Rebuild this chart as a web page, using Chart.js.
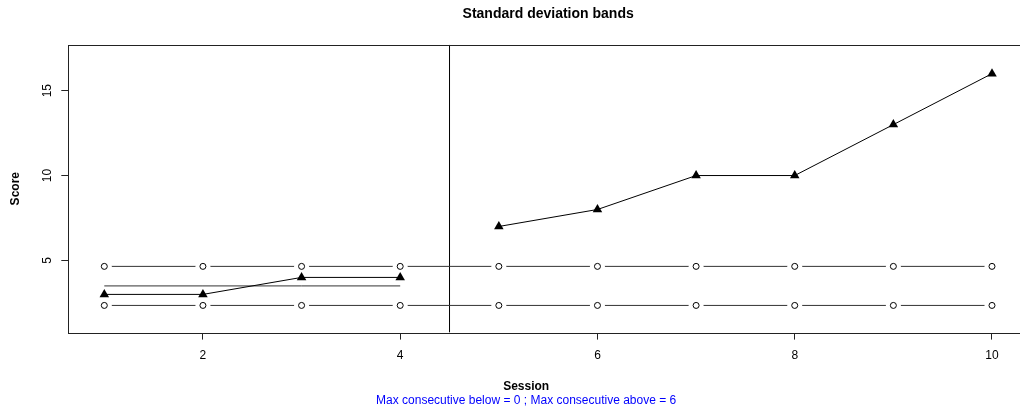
<!DOCTYPE html>
<html>
<head>
<meta charset="utf-8">
<script src="https://cdn.jsdelivr.net/npm/chart.js@4.4.1/dist/chart.umd.min.js"></script>
<style>
  html, body { margin: 0; padding: 0; background: #fff; overflow: hidden; }
  #wrap { width: 1040px; height: 410px; }
</style>
</head>
<body>
<div id="wrap"><canvas id="myChart" width="1040" height="410"></canvas></div>
<script>
// data
var sessions = [1, 2, 3, 4, 5, 6, 7, 8, 9, 10];
var baselineSessions = [1, 2, 3, 4];
var baselineScores = [3, 3, 4, 4];
var treatmentSessions = [5, 6, 7, 8, 9, 10];
var treatmentScores = [7, 8, 10, 10, 13, 16];
var baselineMean = 3.5;
var upperBand = 4.65;
var lowerBand = 2.35;
var phaseChange = 4.5;
var xTicks = [2, 4, 6, 8, 10];
var yTicks = [5, 10, 15];
var xRange = [0.635, 10.365];
var yRange = [0.75, 17.7];

var titleText = 'Standard deviation bands';
var xLabel = 'Session';
var yLabel = 'Score';
var subText = 'Max consecutive below = 0 ; Max consecutive above = 6';

function pts(xs, ys) {
	return xs.map(function (x, i) { return { x: x, y: ys[i] }; });
}
function flat(xs, v) {
	return xs.map(function (x) { return { x: x, y: v }; });
}

const FONT = '"Liberation Sans", Arial, sans-serif';

// box round the plot, and the x label + blue note under it
const frame = {
	id: 'frame',
	afterDraw: function (chart) {
		const a = chart.chartArea, c = chart.ctx;
		c.save();
		c.strokeStyle = '#222';
		c.lineWidth = 1;
		c.strokeRect(Math.round(a.left) + 0.5, Math.round(a.top) + 0.5,
			Math.round(a.right - a.left), Math.round(a.bottom - a.top));
		const cx = (a.left + a.right) / 2 - 22;
		c.textAlign = 'center';
		c.textBaseline = 'middle';
		c.fillStyle = '#000';
		c.font = 'bold 12px ' + FONT;
		c.fillText(xLabel, cx, 387);
		c.fillStyle = '#0000ff';
		c.font = '12px ' + FONT;
		c.fillText(subText, cx, 401);
		c.restore();
	}
};

const ctx = document.getElementById('myChart').getContext('2d');
const myChart = new Chart(ctx, {
	type: 'line',
	data: {
		datasets: [{
			// treatment phase
			data: pts(treatmentSessions, treatmentScores),
			borderColor: '#000', borderWidth: 1,
			pointStyle: 'triangle', pointRadius: 5.5,
			pointBackgroundColor: '#000', pointBorderColor: '#000', pointBorderWidth: 0,
			order: 0
		}, {
			// baseline phase
			data: pts(baselineSessions, baselineScores),
			borderColor: '#000', borderWidth: 1,
			pointStyle: 'triangle', pointRadius: 5.5,
			pointBackgroundColor: '#000', pointBorderColor: '#000', pointBorderWidth: 0,
			order: 0
		}, {
			data: flat(sessions, upperBand),
			showLine: false, pointStyle: 'circle', pointRadius: 3,
			pointBackgroundColor: '#fff', pointBorderColor: '#000', pointBorderWidth: 1,
			order: 1
		}, {
			data: flat(sessions, lowerBand),
			showLine: false, pointStyle: 'circle', pointRadius: 3,
			pointBackgroundColor: '#fff', pointBorderColor: '#000', pointBorderWidth: 1,
			order: 1
		}, {
			// white gaps round the band points
			data: flat(sessions, upperBand).concat(flat(sessions, lowerBand)),
			showLine: false, pointStyle: 'circle', pointRadius: 7.5,
			pointBackgroundColor: '#fff', pointBorderWidth: 0,
			order: 2
		}, {
			data: flat(sessions, upperBand),
			borderColor: '#333', borderWidth: 1, pointRadius: 0,
			order: 3
		}, {
			data: flat(sessions, lowerBand),
			borderColor: '#333', borderWidth: 1, pointRadius: 0,
			order: 3
		}, {
			data: flat(baselineSessions, baselineMean),
			borderColor: '#333', borderWidth: 1, pointRadius: 0,
			order: 4
		}, {
			data: [{ x: phaseChange, y: yRange[0] }, { x: phaseChange, y: yRange[1] }],
			borderColor: '#000', borderWidth: 1, pointRadius: 0,
			order: 5
		}]
	},
	options: {
		responsive: false,
		animation: false,
		events: [],
		layout: { padding: { left: 0, right: 12, top: 0, bottom: 38 } },
		plugins: {
			legend: { display: false },
			tooltip: { enabled: false },
			title: {
				display: true, text: titleText, fullSize: false,
				color: '#000', font: { family: FONT, size: 14, weight: 'bold' },
				padding: { top: 6, bottom: 22 }
			}
		},
		scales: {
			x: {
				type: 'linear', min: xRange[0], max: xRange[1],
				afterBuildTicks: function (s) { s.ticks = xTicks.map(function (v) { return { value: v }; }); },
				grid: { drawOnChartArea: false, drawTicks: true, tickLength: 7, color: '#222' },
				border: { display: false },
				ticks: { color: '#000', padding: 9, maxRotation: 0, autoSkip: false, font: { family: FONT, size: 12 } }
			},
			y: {
				type: 'linear', min: yRange[0], max: yRange[1],
				afterBuildTicks: function (s) { s.ticks = yTicks.map(function (v) { return { value: v }; }); },
				grid: { drawOnChartArea: false, drawTicks: true, tickLength: 7, color: '#222' },
				border: { display: false },
				ticks: { color: '#000', padding: 7, minRotation: 90, maxRotation: 90, crossAlign: 'center', font: { family: FONT, size: 12 } },
				title: {
					display: true, text: yLabel, color: '#000',
					font: { family: FONT, size: 12, weight: 'bold' },
					padding: { top: 8, bottom: 10.5 }
				}
			}
		}
	},
	plugins: [frame]
});
</script>
</body>
</html>
